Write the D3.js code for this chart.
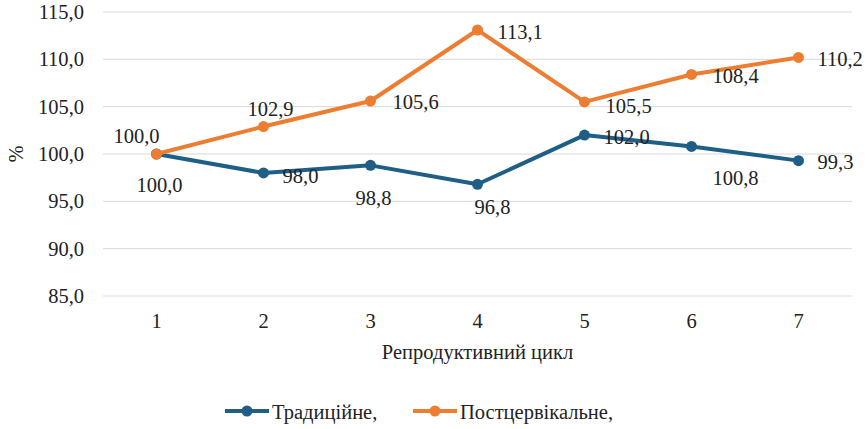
<!DOCTYPE html>
<html>
<head>
<meta charset="utf-8">
<script src="https://cdn.jsdelivr.net/npm/d3@7"></script>
<style>
  body { margin: 0; background: #fff; }
</style>
</head>
<body>
<div id="chart"></div>
<script>
// categories and series
var cycles = ["1", "2", "3", "4", "5", "6", "7"];
var traditional = [100.0, 98.0, 98.8, 96.8, 102.0, 100.8, 99.3];
var postcervical = [100.0, 102.9, 105.6, 113.1, 105.5, 108.4, 110.2];
var yTicks = [85, 90, 95, 100, 105, 110, 115];
var seriesNames = ["Традиційне,", "Постцервікальне,"];

// data label placement (dx, dy from the point, anchor)
var tradLabels = [[3, 38, "middle"], [19, 10, "start"], [3, 40, "middle"], [15, 30, "middle"],
                  [19, 9, "start"], [44, 39, "middle"], [19, 8, "start"]];
var postLabels = [[-20, -11, "middle"], [7, -11, "middle"], [22, 8, "start"], [20, 9, "start"],
                  [21, 11, "start"], [21, 9, "start"], [19, 9, "start"]];

var width = 866, height = 429;
var margin = {top: 12, right: 14, bottom: 133, left: 103};
var colors = ["#1f5f86", "#ed7d31"];
var FONT = "Liberation Serif";
var FS = 20.5;
var fmt = function(v) { return d3.format(".1f")(v).replace(".", ","); };

var svg = d3.select("#chart").append("svg")
  .attr("width", width)
  .attr("height", height)
  .attr("font-family", FONT);

var x = d3.scaleBand().domain(cycles).range([margin.left, width - margin.right]);
var y = d3.scaleLinear().domain([85, 115]).range([height - margin.bottom, margin.top]);
var cx = function(d, i) { return x(cycles[i]) + x.bandwidth() / 2; };

// gridlines
svg.append("g").selectAll("line")
  .data(yTicks)
  .enter().append("line")
  .attr("x1", margin.left).attr("x2", width - margin.right)
  .attr("y1", function(d) { return y(d); })
  .attr("y2", function(d) { return y(d); })
  .attr("stroke", "#d9d9d9")
  .attr("stroke-width", 1);

// y axis labels
var yAxis = svg.append("g")
  .attr("transform", "translate(" + margin.left + ",0)")
  .call(d3.axisLeft(y).tickValues(yTicks).tickFormat(fmt).tickSize(0).tickPadding(19));
yAxis.attr("font-family", FONT).attr("font-size", FS);
yAxis.select(".domain").remove();
yAxis.selectAll("text").attr("fill", "#222");

// x axis labels
var xAxis = svg.append("g")
  .attr("transform", "translate(0," + (height - margin.bottom) + ")")
  .call(d3.axisBottom(x).tickSize(0).tickPadding(17));
xAxis.attr("font-family", FONT).attr("font-size", FS);
xAxis.select(".domain").remove();
xAxis.selectAll("text").attr("fill", "#222");

// axis titles
svg.append("text")
  .attr("transform", "translate(23," + y(100) + ") rotate(-90)")
  .attr("text-anchor", "middle")
  .attr("font-family", FONT)
  .attr("font-size", FS)
  .attr("fill", "#222")
  .text("%");

svg.append("text")
  .attr("x", (margin.left + width - margin.right) / 2)
  .attr("y", 359)
  .attr("text-anchor", "middle")
  .attr("font-family", FONT)
  .attr("font-size", FS)
  .attr("fill", "#222")
  .text("Репродуктивний цикл");

var line = d3.line()
  .x(cx)
  .y(function(d) { return y(d); });

function drawSeries(data, color, labels) {
  var g = svg.append("g");
  g.append("path")
    .datum(data)
    .attr("fill", "none")
    .attr("stroke", color)
    .attr("stroke-width", 4)
    .attr("stroke-linejoin", "round")
    .attr("d", line);
  g.selectAll("circle")
    .data(data)
    .enter().append("circle")
    .attr("cx", cx)
    .attr("cy", function(d) { return y(d); })
    .attr("r", 5.5)
    .attr("fill", color);
  g.selectAll("text")
    .data(data)
    .enter().append("text")
    .attr("x", function(d, i) { return cx(d, i) + labels[i][0]; })
    .attr("y", function(d, i) { return y(d) + labels[i][1]; })
    .attr("text-anchor", function(d, i) { return labels[i][2]; })
    .attr("font-family", FONT)
    .attr("font-size", FS)
    .attr("fill", "#222")
    .text(fmt);
}

drawSeries(traditional, colors[0], tradLabels);
drawSeries(postcervical, colors[1], postLabels);

// legend
var legendX = [225, 413];
var legend = svg.append("g").selectAll("g")
  .data(seriesNames)
  .enter().append("g")
  .attr("transform", function(d, i) { return "translate(" + legendX[i] + ",411)"; });
legend.append("line")
  .attr("x1", 0).attr("x2", 44)
  .attr("stroke", function(d, i) { return colors[i]; })
  .attr("stroke-width", 4);
legend.append("circle")
  .attr("cx", 22).attr("r", 5.5)
  .attr("fill", function(d, i) { return colors[i]; });
legend.append("text")
  .attr("x", 47).attr("y", 8)
  .attr("font-family", FONT)
  .attr("font-size", FS)
  .attr("fill", "#222")
  .text(function(d) { return d; });
</script>
</body>
</html>
